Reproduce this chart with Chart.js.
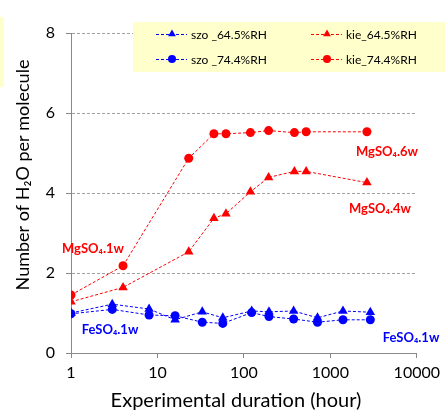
<!DOCTYPE html>
<html>
<head>
<meta charset="utf-8">
<script src="https://cdn.jsdelivr.net/npm/chart.js@4.4.0/dist/chart.umd.min.js"></script>
<style>
  html, body { margin: 0; padding: 0; background: #fff; }
  #wrap { width: 445px; height: 413px; position: relative; }
</style>
</head>
<body>
<div id="wrap"><canvas id="chart"></canvas></div>
<script>
// hours since start of experiment
const hoursSzo = [1, 3, 8, 16, 33, 57, 123, 195, 376, 710, 1400, 2900];
const hoursKie = [1, 4, 23, 45, 62, 119, 193, 384, 525, 2650];

// number of H2O per molecule
const szo645 = [1.00, 1.22, 1.10, 0.83, 1.03, 0.88, 1.05, 1.03, 1.05, 0.88, 1.05, 1.02];
const szo744 = [0.98, 1.09, 0.95, 0.93, 0.77, 0.74, 1.01, 0.91, 0.85, 0.77, 0.83, 0.83];
const kie645 = [1.28, 1.64, 2.53, 3.37, 3.48, 4.03, 4.39, 4.54, 4.54, 4.26];
const kie744 = [1.45, 2.18, 4.87, 5.48, 5.48, 5.51, 5.56, 5.51, 5.53, 5.53];

const xTicks = [1, 10, 100, 1000, 10000];
const yTicks = [0, 2, 4, 6, 8];

const FONT = 'Lato, "Open Sans", sans-serif';
const BLUE = '#0000ff';
const RED = '#ff0000';

function pts(xs, ys) {
  return xs.map((x, i) => ({ x: x, y: ys[i] }));
}

function series(label, xs, ys, color, style) {
  return {
    label: label,
    data: pts(xs, ys),
    showLine: true,
    borderColor: color,
    backgroundColor: color,
    borderWidth: 1,
    borderDash: [3, 2],
    pointStyle: style,
    pointRadius: style === 'triangle' ? 5.5 : 4.5,
    pointBorderWidth: 0,
    pointBackgroundColor: color
  };
}

const datasets = [
  series('szo _64.5%RH', hoursSzo, szo645, BLUE, 'triangle'),
  series('kie_64.5%RH', hoursKie, kie645, RED, 'triangle'),
  series('szo _74.4%RH', hoursSzo, szo744, BLUE, 'circle'),
  series('kie_74.4%RH', hoursKie, kie744, RED, 'circle')
];

// legend box, labels, axis titles
const decor = {
  id: 'decor',
  beforeDraw(chart) {
    const ctx = chart.ctx;
    ctx.save();
    ctx.fillStyle = '#ffffcc';
    ctx.fillRect(0, 17, 4, 70);
    ctx.restore();
  },
  afterDraw(chart) {
    const ctx = chart.ctx;
    ctx.save();

    // legend
    ctx.fillStyle = '#ffffcc';
    ctx.fillRect(133, 22, 312, 50);
    const slots = [
      { ds: 0, x: 156, y: 34 },
      { ds: 1, x: 311, y: 34 },
      { ds: 2, x: 156, y: 59 },
      { ds: 3, x: 311, y: 59 }
    ];
    slots.forEach(s => {
      const d = datasets[s.ds];
      ctx.strokeStyle = d.borderColor;
      ctx.lineWidth = 1;
      ctx.setLineDash([3, 2]);
      ctx.beginPath();
      ctx.moveTo(s.x, s.y + 0.5);
      ctx.lineTo(s.x + 31, s.y + 0.5);
      ctx.stroke();
      ctx.setLineDash([]);
      ctx.fillStyle = d.borderColor;
      Chart.helpers.drawPoint(ctx, {
        pointStyle: d.pointStyle,
        radius: d.pointStyle === 'triangle' ? 4.5 : 4,
        rotation: 0,
        borderWidth: 0
      }, s.x + 16, s.y);
      ctx.fillStyle = '#000';
      ctx.font = '12px ' + FONT;
      ctx.textBaseline = 'middle';
      ctx.textAlign = 'left';
      ctx.fillText(d.label, s.x + 35, s.y + 1);
    });

    // phase labels
    ctx.font = 'bold 13px ' + FONT;
    ctx.textAlign = 'center';
    ctx.textBaseline = 'middle';
    ctx.fillStyle = RED;
    ctx.fillText('MgSO₄.6w', 387, 152);
    ctx.fillText('MgSO₄.4w', 380, 209);
    ctx.fillText('MgSO₄.1w', 93, 249);
    ctx.fillStyle = BLUE;
    ctx.fillText('FeSO₄.1w', 110, 330);
    ctx.fillText('FeSO₄.1w', 411, 338);

    // x axis title
    ctx.fillStyle = '#000';
    ctx.font = '20px ' + FONT;
    ctx.fillText('Experimental duration (hour)', 236, 401);

    // y axis title
    ctx.translate(23, 175);
    ctx.rotate(-Math.PI / 2);
    ctx.font = '18px ' + FONT;
    ctx.fillText('Number of H₂O per molecule', 0, 0);
    ctx.restore();
  }
};

new Chart(document.getElementById('chart'), {
  type: 'scatter',
  data: { datasets: datasets },
  options: {
    responsive: true,
    maintainAspectRatio: false,
    animation: false,
    layout: { padding: { top: 33, right: 28, left: 0, bottom: 0 } },
    plugins: {
      legend: { display: false },
      tooltip: { enabled: false }
    },
    scales: {
      x: {
        type: 'logarithmic',
        min: 1,
        max: 10000,
        afterBuildTicks: axis => { axis.ticks = xTicks.map(v => ({ value: v })); },
        afterFit: axis => { axis.height = 60; },
        ticks: {
          color: '#000',
          font: { family: FONT, size: 16 },
          padding: 5,
          maxRotation: 0,
          callback: v => String(v)
        },
        grid: { drawOnChartArea: false, drawTicks: true, tickLength: 5, color: '#888' },
        border: { color: '#888', width: 1 },
        title: { display: false }
      },
      y: {
        min: 0,
        max: 8,
        afterBuildTicks: axis => { axis.ticks = yTicks.map(v => ({ value: v })); },
        afterFit: axis => { axis.width = 71; },
        ticks: {
          color: '#000',
          font: { family: FONT, size: 16 },
          padding: 11
        },
        grid: {
          color: '#a0a0a0',
          tickLength: 5,
          tickColor: '#888'
        },
        border: { color: '#888', width: 1, dash: [3, 2] },
        title: { display: false }
      }
    }
  },
  plugins: [decor]
});
</script>
</body>
</html>
